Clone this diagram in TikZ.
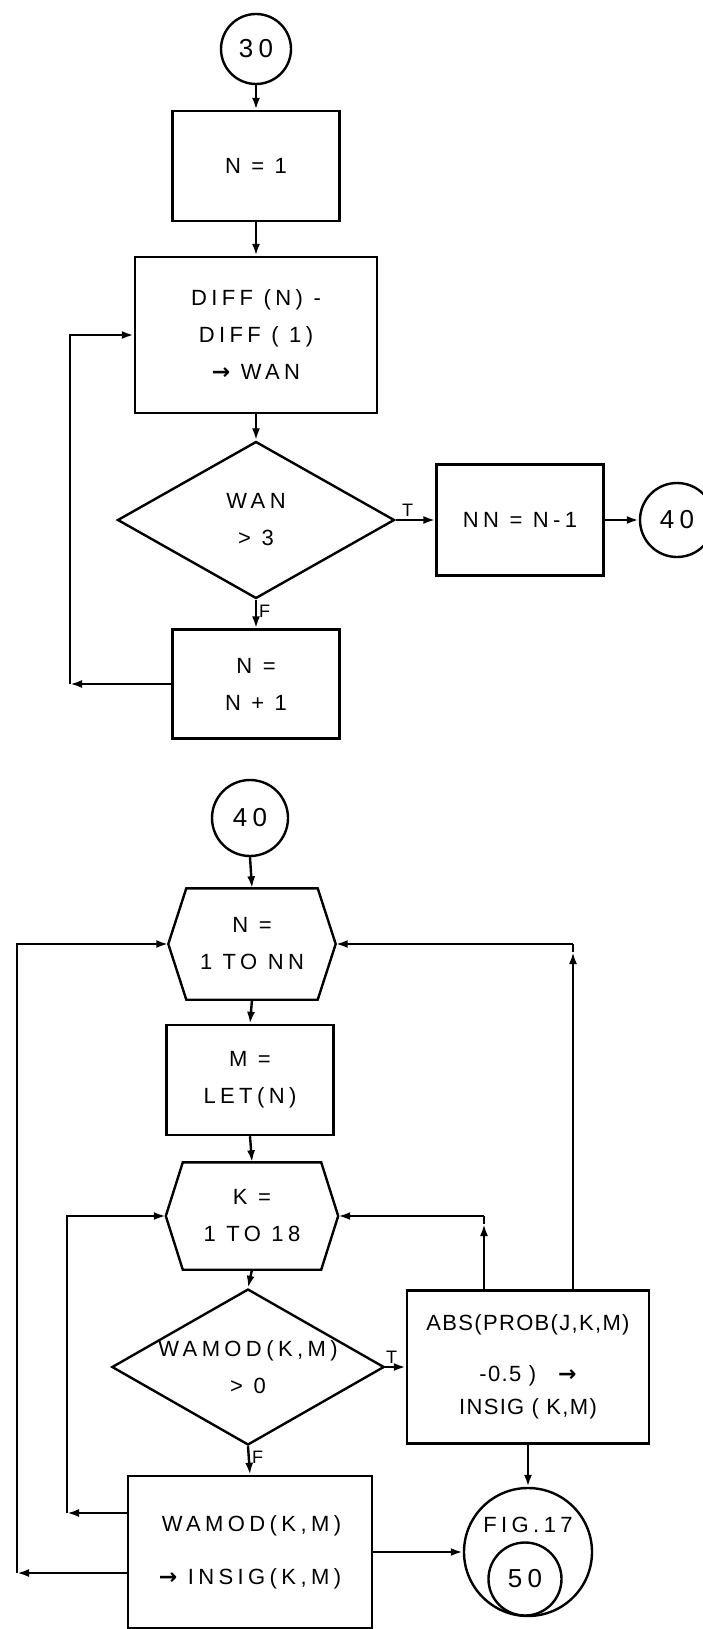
\documentclass[tikz,border=0pt]{standalone}
\usepackage{fontspec}
\newfontfamily\handfont[LetterSpace=20]{Liberation Sans}
\newfontfamily\tightfont[LetterSpace=6]{Liberation Sans}
\newfontfamily\arrowfont{DejaVu Sans}
\usetikzlibrary{shapes.geometric,arrows.meta,positioning,calc}

\begin{document}
\begin{tikzpicture}[x=1pt, y=-1pt,
        box/.style={rectangle, draw=black, line width=2.4pt, minimum width=167pt, minimum height=110pt, align=center, inner sep=0pt, font=\handfont\fontsize{22}{37}\selectfont},
        hexa/.style={rectangle, minimum width=167pt, minimum height=110pt, align=center, inner sep=0pt, font=\handfont\fontsize{22}{37}\selectfont},
        decision/.style={diamond, draw=black, line width=2.4pt, aspect=1.75, inner sep=0pt, align=center, font=\handfont\fontsize{22}{37}\selectfont},
        conn/.style={circle, draw=black, line width=2.4pt, inner sep=0pt, font=\handfont\fontsize{26}{30}\selectfont},
        outline/.style={draw=black, line width=2.4pt},
        arrow/.style={-{Latex[length=12pt,width=8pt]}, line width=2.4pt},
        tf/.style={font=\handfont\fontsize{18}{20}\selectfont, inner sep=2pt}
    ]

    \useasboundingbox (0,0) rectangle (703,1629);

    % First loop: find NN
    \node[conn, minimum size=70pt] (c30) at (256,49) {30};
    \node[box] (n1) at (256,166) {N = 1};
    \node[box, minimum width=242pt, minimum height=156pt] (diff) at (256,335) {DIFF (N) -\\DIFF ( 1)\\{\arrowfont\bfseries →} WAN};
    \node[decision, minimum width=277pt, minimum height=157pt] (wan) at (256,520) {WAN\\> 3};
    \node[box, minimum height=111pt] (nn) at (520,520) {NN = N-1};
    \node[conn, minimum size=74pt] (c40a) at (677,520) {40};
    \node[box, minimum height=109pt] (inc) at (256,684) {N =\\N + 1};

    \draw[arrow] (c30.south) -- (n1.north);
    \draw[arrow] (n1.south) -- (diff.north);
    \draw[arrow] (diff.south) -- (wan.north);
    \draw[arrow] (wan.east) -- node[tf, above, pos=0.3] {T} (nn.west);
    \draw[arrow] (nn.east) -- (c40a.west);
    \draw[arrow] (wan.south) -- node[tf, right, pos=0.4] {F} (inc.north);

    % Back to DIFF
    \coordinate (incL) at (70,684);
    \draw[arrow] (inc.west) -- (incL);
    \draw[arrow] (incL) |- (diff.west);

    % Second part: nested loops over N and K
    \node[conn, minimum size=76pt] (c40b) at (250,818) {40};
    \node[hexa, minimum height=111pt] (loopn) at (252,944) {N =\\1 TO NN};
    \node[box] (letn) at (250,1080) {M =\\LET(N)};
    \node[hexa, minimum width=172pt, minimum height=107pt] (loopk) at (252,1216) {K =\\1 TO 18};
    \node[decision, minimum width=271pt, minimum height=156pt] (wamod) at (248,1367) {WAMOD(K,M)\\> 0};
    \node[box, minimum width=242pt, minimum height=153pt, font=\tightfont\fontsize{22}{37}\selectfont] (absb) at (528,1367) {ABS(PROB(J,K,M)\\[14pt]-0.5 )\quad{\arrowfont\bfseries →}\\[-4pt]INSIG ( K,M)};
    \node[box, minimum width=244pt, minimum height=152pt, align=right] (insig) at (250,1552) {WAMOD(K,M)\\[16pt]{\arrowfont\bfseries →} INSIG(K,M)};

    % Off-page connector
    \node[conn, minimum size=128pt] (fig) at (528,1552) {};
    \node[tf, font=\handfont\fontsize{22}{24}\selectfont] (figlbl) at (528,1525) {FIG.17};
    \node[conn, minimum size=73pt] (c50) at (525,1579) {50};

    % Hexagon outlines
    \foreach \h/\c in {loopn/18, loopk/17} {
        \draw[outline] (\h.west) -- ([xshift=\c pt]\h.north west) -- ([xshift=-\c pt]\h.north east)
            -- (\h.east) -- ([xshift=-\c pt]\h.south east) -- ([xshift=\c pt]\h.south west) -- cycle;
    }

    \draw[arrow] (c40b.south) -- (loopn.north);
    \draw[arrow] (loopn.south) -- (letn.north);
    \draw[arrow] (letn.south) -- (loopk.north);
    \draw[arrow] (loopk.south) -- (wamod.north);
    \draw[arrow] (wamod.east) -- node[tf, above, pos=0.3] {T} (absb.west);
    \draw[arrow] (wamod.south) -- node[tf, right, pos=0.4] {F} (insig.north);
    \draw[arrow] (absb.south) -- (fig.north);
    \draw[arrow] (insig.east) -- (fig.west);

    % Return paths
    \coordinate (absK) at (484,1216);
    \coordinate (absN) at (573,944);
    \draw[arrow] (absK |- absb.north) -- ([yshift=-8pt]absK);
    \draw[arrow] (absK) -- (loopk.east);
    \draw[outline] ([yshift=-8pt]absK) -- (absK);
    \draw[arrow] (absN |- absb.north) -- ([yshift=-8pt]absN);
    \draw[arrow] (absN) -- (loopn.east);
    \draw[outline] ([yshift=-8pt]absN) -- (absN);

    \coordinate (inL) at (67,1513);
    \coordinate (outL) at (17,1573);
    \draw[arrow] ([yshift=39pt]insig.west) -- (inL);
    \draw[arrow] (inL) |- (loopk.west);
    \draw[arrow] ([yshift=-21pt]insig.west) -- (outL);
    \draw[arrow] (outL) |- (loopn.west);

\end{tikzpicture}
\end{document}
